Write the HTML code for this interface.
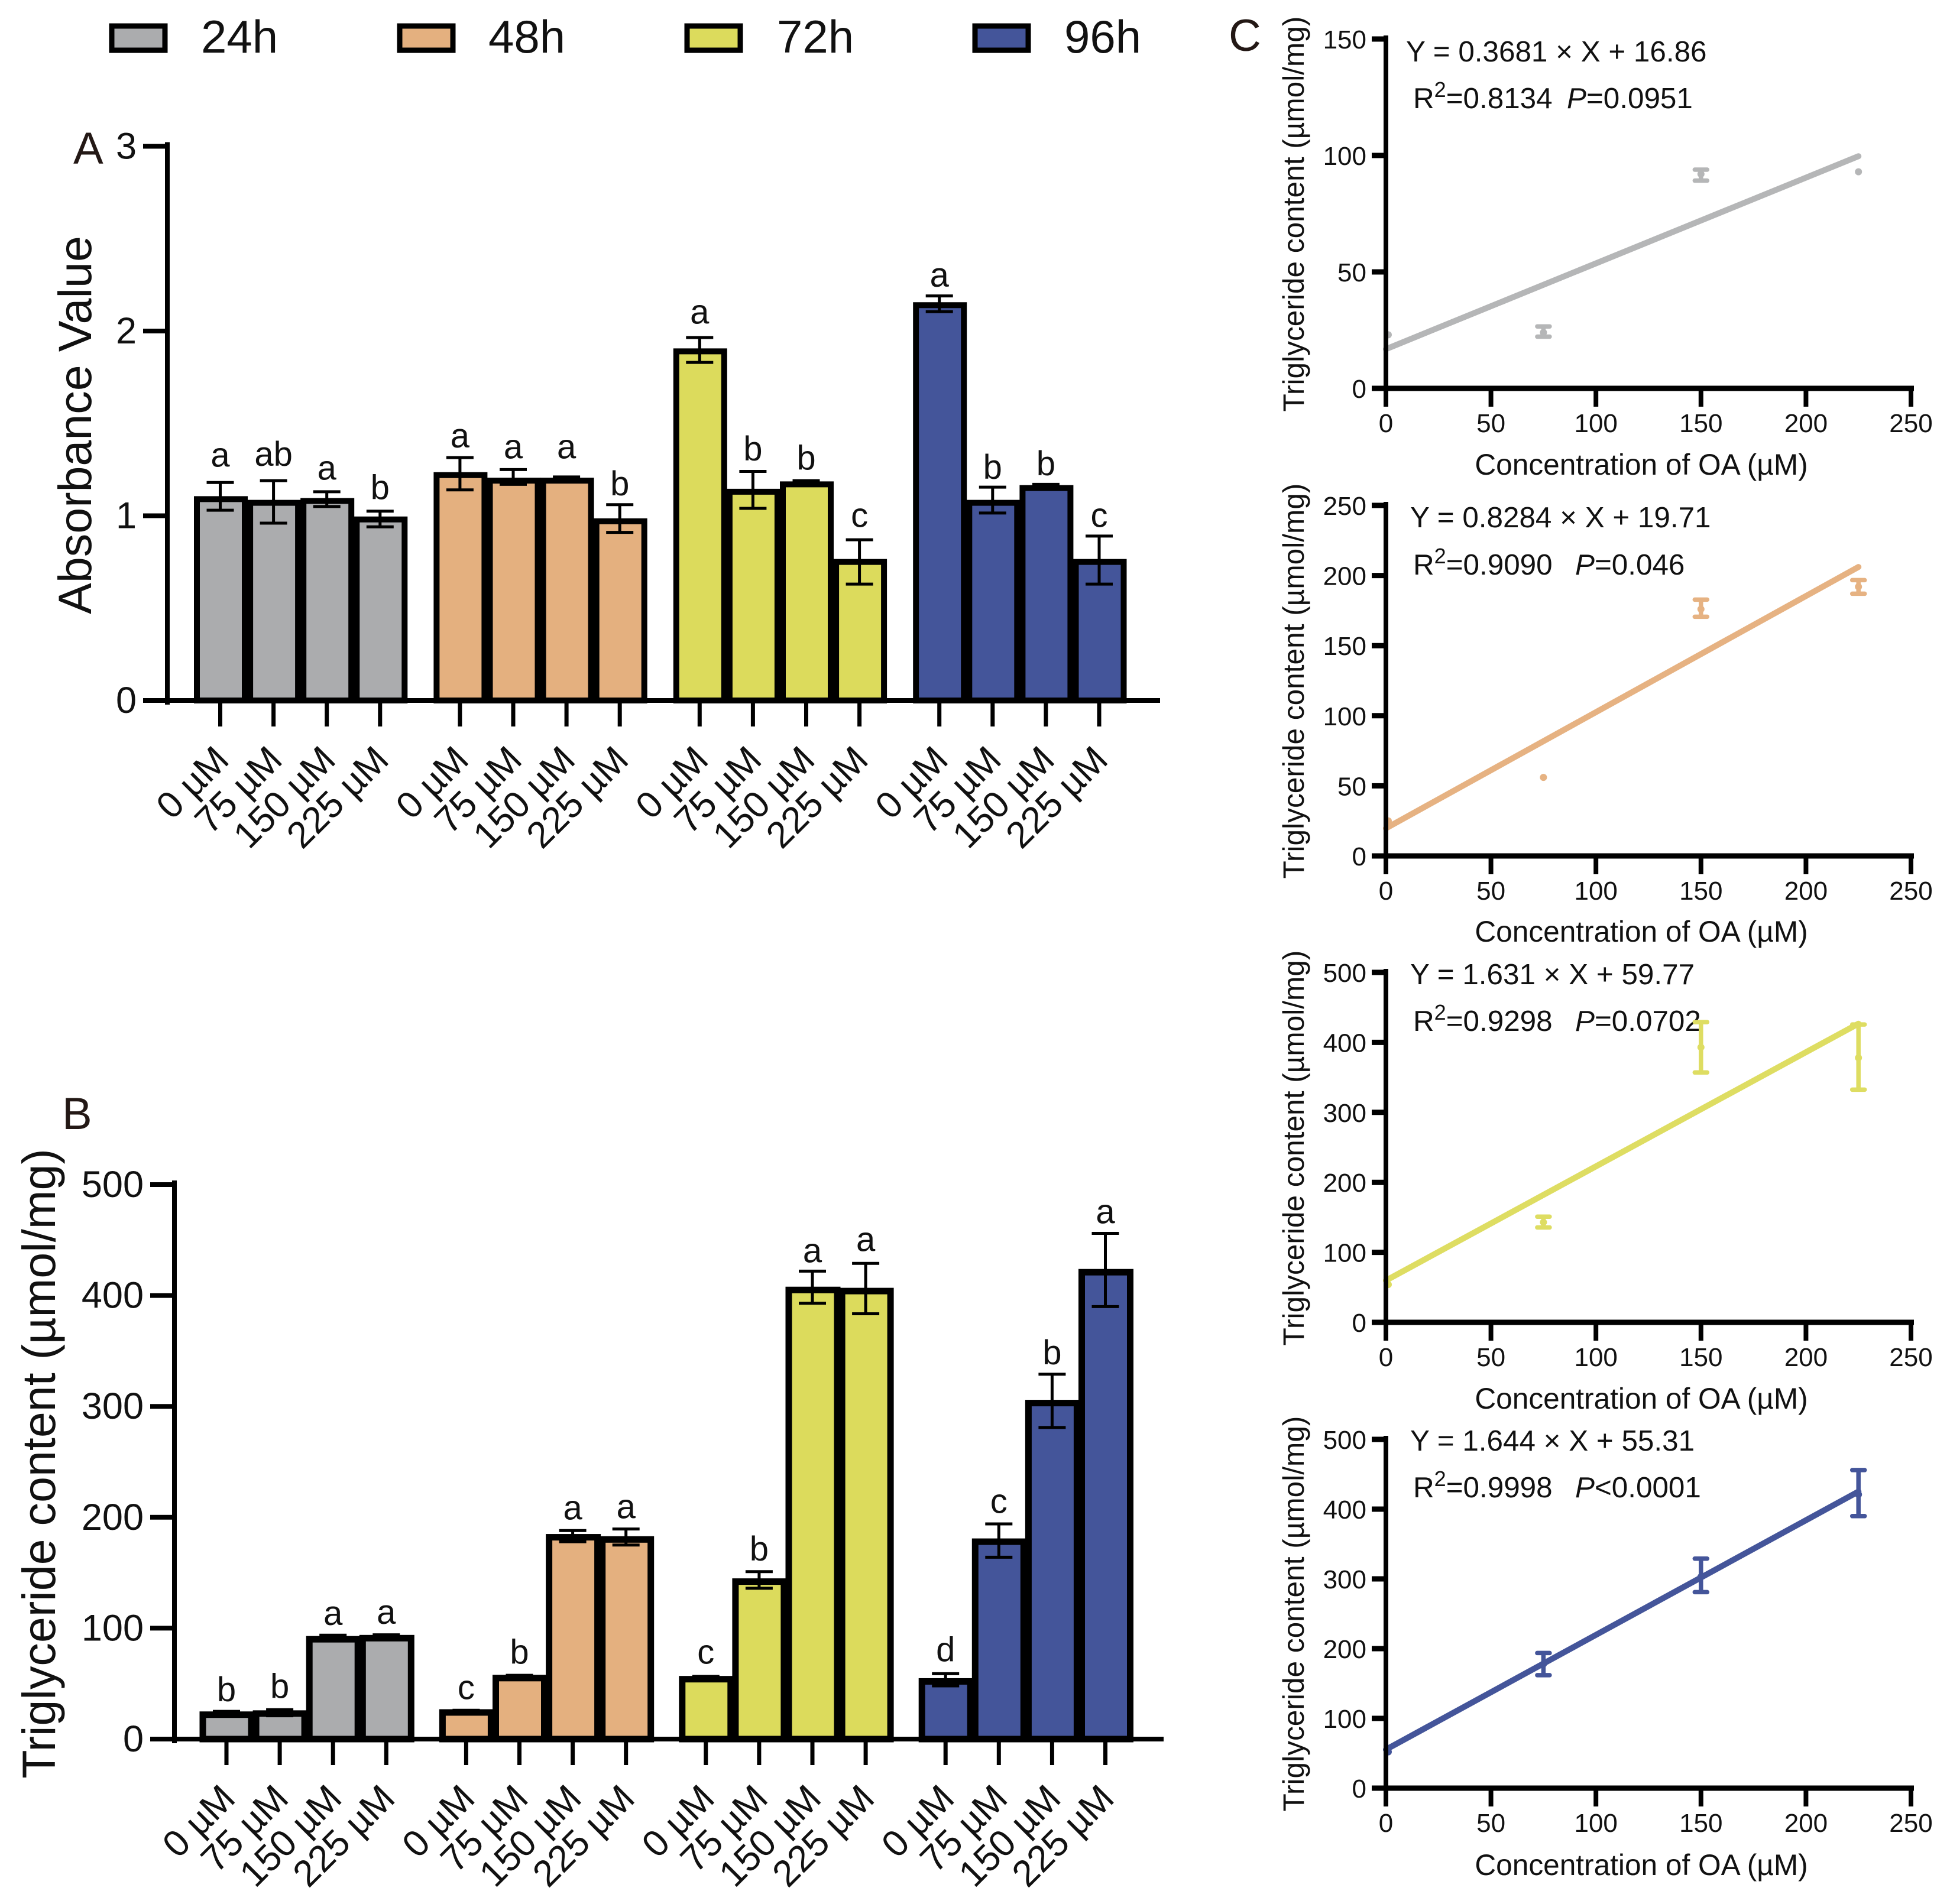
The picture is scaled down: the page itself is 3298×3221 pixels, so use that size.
<!DOCTYPE html>
<html lang="en">
<head>
<meta charset="utf-8">
<title>Absorbance and triglyceride content by oleic acid concentration</title>
<style>
html,body{margin:0;padding:0;background:#fff;}
svg{display:block;font-family:"Liberation Sans",Arial,sans-serif;fill:#111;}
.fill-24h{fill:#ABACAE}.fill-48h{fill:#E4B07F}.fill-72h{fill:#DCDB5C}.fill-96h{fill:#44559A}
.line-24h{stroke:#B5B6B7}.line-48h{stroke:#E6B282}.line-72h{stroke:#DEDD62}.line-96h{stroke:#44559A}
.dot-24h{fill:#B5B6B7}.dot-48h{fill:#E6B282}.dot-72h{fill:#DEDD62}.dot-96h{fill:#44559A}
.bar{stroke:#000}
.ink{stroke:#000;fill:none}
.panel{font-size:76px;fill:#231815}
.legend{font-size:78px}
.big-title{font-size:79px;text-anchor:middle}
.big-tick{font-size:63px;text-anchor:end}
.cat{font-size:63px;text-anchor:end}
.sig{font-size:58px;text-anchor:middle}
.c-title{font-size:49.6px;text-anchor:middle}
.c-tick{font-size:44px}
.eq{font-size:49.4px}
.sup{font-size:36px}
</style>
</head>
<body>
<svg id="figure" xmlns="http://www.w3.org/2000/svg" width="3298" height="3221" viewBox="0 0 3298 3221">
  <rect x="0" y="0" width="3298" height="3221" fill="#fff"/>

  <g>
    <g>
      <rect class="fill-24h" x="189" y="44" width="90" height="41" stroke="#000" stroke-width="9"/>
      <text class="legend" x="340" y="89">24h</text>
    </g>
    <g>
      <rect class="fill-48h" x="676" y="44" width="90" height="41" stroke="#000" stroke-width="9"/>
      <text class="legend" x="826" y="89">48h</text>
    </g>
    <g>
      <rect class="fill-72h" x="1162" y="44" width="90" height="41" stroke="#000" stroke-width="9"/>
      <text class="legend" x="1314" y="89">72h</text>
    </g>
    <g>
      <rect class="fill-96h" x="1649" y="44" width="90" height="41" stroke="#000" stroke-width="9"/>
      <text class="legend" x="1800" y="89">96h</text>
    </g>
  </g>

  <text class="panel" x="124" y="277">A</text>
  <text class="panel" x="105" y="1910">B</text>
  <text class="panel" x="2078" y="86">C</text>

  <text class="big-title" transform="translate(154 719) rotate(-90)">Absorbance Value</text>
  <text class="big-title" transform="translate(93 2476) rotate(-90)">Triglyceride content (µmol/mg)</text>

  <g id="chart-a"></g>
  <g id="chart-b"></g>

  <g id="chart-c0">
    <text class="c-title" transform="translate(2205 362) rotate(-90)">Triglyceride content (µmol/mg)</text>
    <text class="c-title" x="2776" y="803">Concentration of OA (µM)</text>
    <text class="eq" x="2378" y="104">Y = 0.3681 × X + 16.86</text>
    <text class="eq" x="2390" y="183">R<tspan class="sup" dy="-19">2</tspan><tspan dy="19">=0.8134</tspan><tspan x="2650" font-style="italic">P</tspan>=0.0951</text>
  </g>
  <g id="chart-c1">
    <text class="c-title" transform="translate(2205 1152) rotate(-90)">Triglyceride content (µmol/mg)</text>
    <text class="c-title" x="2776" y="1593">Concentration of OA (µM)</text>
    <text class="eq" x="2385" y="892">Y = 0.8284 × X + 19.71</text>
    <text class="eq" x="2390" y="972">R<tspan class="sup" dy="-19">2</tspan><tspan dy="19">=0.9090</tspan><tspan x="2664" font-style="italic">P</tspan>=0.046</text>
  </g>
  <g id="chart-c2">
    <text class="c-title" transform="translate(2205 1942) rotate(-90)">Triglyceride content (µmol/mg)</text>
    <text class="c-title" x="2776" y="2383">Concentration of OA (µM)</text>
    <text class="eq" x="2385" y="1665">Y = 1.631 × X + 59.77</text>
    <text class="eq" x="2390" y="1744">R<tspan class="sup" dy="-19">2</tspan><tspan dy="19">=0.9298</tspan><tspan x="2664" font-style="italic">P</tspan>=0.0702</text>
  </g>
  <g id="chart-c3">
    <text class="c-title" transform="translate(2205 2730) rotate(-90)">Triglyceride content (µmol/mg)</text>
    <text class="c-title" x="2776" y="3172">Concentration of OA (µM)</text>
    <text class="eq" x="2385" y="2454">Y = 1.644 × X + 55.31</text>
    <text class="eq" x="2390" y="2533">R<tspan class="sup" dy="-19">2</tspan><tspan dy="19">=0.9998</tspan><tspan x="2664" font-style="italic">P</tspan>&lt;0.0001</text>
  </g>
</svg>

<script>
const timeGroups = ['24h', '48h', '72h', '96h'];
const concentrationLabels = ['0 µM', '75 µM', '150 µM', '225 µM'];

const absorbanceTicks = [0, 1, 2, 3];
const absorbanceMeans = [[1.09, 1.07, 1.08, 0.98], [1.22, 1.19, 1.19, 0.97], [1.89, 1.13, 1.17, 0.75], [2.14, 1.07, 1.15, 0.75]];
const absorbanceUpper = [[1.18, 1.19, 1.13, 1.025], [1.315, 1.25, 1.21, 1.06], [1.965, 1.24, 1.19, 0.87], [2.19, 1.155, 1.17, 0.89]];
const absorbanceLower = [[1.03, 0.96, 1.05, 0.94], [1.14, 1.17, 1.19, 0.91], [1.83, 1.04, 1.17, 0.63], [2.105, 1.015, 1.15, 0.63]];
const absorbanceLetters = [['a', 'ab', 'a', 'b'], ['a', 'a', 'a', 'b'], ['a', 'b', 'b', 'c'], ['a', 'b', 'b', 'c']];
const absorbanceLetterLevels = [[1.265, 1.27, 1.195, 1.09], [1.37, 1.31, 1.31, 1.11], [2.04, 1.30, 1.25, 0.94], [2.24, 1.20, 1.22, 0.94]];

const trigTicks = [0, 100, 200, 300, 400, 500];
const trigMeans = [[22, 23, 90, 91], [24, 55, 182, 180], [54, 142, 405, 404], [52, 178, 303, 421]];
const trigUpper = [[25, 26.5, 93.7, 94], [26, 57.5, 188, 189.4], [56.5, 151, 422, 429], [59, 194, 329, 456]];
const trigLower = [[21, 21, 89, 90], [23, 54, 178, 175], [53, 136, 393, 383.5], [48, 164, 281, 390]];
const trigLetters = [['b', 'b', 'a', 'a'], ['c', 'b', 'a', 'a'], ['c', 'b', 'a', 'a'], ['d', 'c', 'b', 'a']];
const trigLetterLevels = [[34, 37, 103, 104], [36, 68, 198, 199], [68, 161, 430, 440], [70, 204, 338, 465]];

const regressionXTicks = [0, 50, 100, 150, 200, 250];
const regressionYTicks = [[0, 50, 100, 150], [0, 50, 100, 150, 200, 250], [0, 100, 200, 300, 400, 500], [0, 100, 200, 300, 400, 500]];
const regressionSlopes = [0.3681, 0.8284, 1.631, 1.644];
const regressionIntercepts = [16.86, 19.71, 59.77, 55.31];
const oaDoses = [0, 75, 150, 225];
const regressionMeans = [[23, 24, 92, 93], [25, 56, 176, 192], [54, 143, 393, 378], [52, 178, 303, 421]];
const regressionUpper = [[23, 26.6, 93.9, 93], [25, 56, 182.8, 196.7], [54, 151, 429, 425.6], [52, 193.7, 329, 456]];
const regressionLower = [[23, 22.2, 89.2, 93], [25, 56, 170.6, 187], [54, 135.6, 357, 332.5], [52, 162, 281, 390]];

const NS = 'http://www.w3.org/2000/svg';
function make(parent, tag, attrs, text) {
  const el = document.createElementNS(NS, tag);
  for (const k in attrs) el.setAttribute(k, attrs[k]);
  if (text !== undefined) el.textContent = text;
  parent.appendChild(el);
  return el;
}
function slug(s) { return String(s).replace(/[^a-zA-Z0-9]+/g, '').toLowerCase(); }

function bandX(origin, g, i) { return origin + g * 405.4 + i * 90.1; }

function drawBarChart(root, opts) {
  const y = v => opts.y0 - v * opts.pxPerUnit;
  const key = opts.key;
  timeGroups.forEach((t, g) => {
    concentrationLabels.forEach((c, i) => {
      const cx = bandX(opts.originX, g, i);
      const bar = make(root, 'rect', {
        class: 'bar fill-' + t,
        'stroke-width': opts.barStroke,
        x: cx + 1 - opts.barHalf,
        y: y(opts.means[g][i]),
        width: opts.barHalf * 2,
        height: opts.y0 - y(opts.means[g][i])
      });
      
      

      const err = make(root, 'path', {
        class: 'ink',
        'stroke-width': 5,
        d: 'M' + (cx - 23) + ' ' + y(opts.upper[g][i]) + 'H' + (cx + 23) +
           'M' + cx + ' ' + y(opts.upper[g][i]) + 'V' + y(opts.lower[g][i]) +
           'M' + (cx - 23) + ' ' + y(opts.lower[g][i]) + 'H' + (cx + 23)
      });
      
      

      const sig = make(root, 'text', { class: 'sig', x: cx, y: y(opts.levels[g][i]) }, opts.letters[g][i]);
      
      

      const tick = make(root, 'line', { class: 'ink', 'stroke-width': 7, x1: cx, x2: cx, y1: opts.y0, y2: opts.y0 + 44 });
      
      

      const lx = cx + 18;
      const ly = opts.y0 + 104;
      const cat = make(root, 'text', { class: 'cat', x: lx, y: ly, transform: 'rotate(-45 ' + lx + ' ' + ly + ')' }, c);
      
      
    });
  });

  const yAxis = make(root, 'line', { class: 'ink', 'stroke-width': 8, x1: opts.axisX, x2: opts.axisX, y1: y(opts.ticks[opts.ticks.length - 1]) - 7, y2: opts.y0 + 7 });
  
  

  const xAxis = make(root, 'line', { class: 'ink', 'stroke-width': 8, x1: opts.axisX - 41, x2: opts.xEnd, y1: opts.y0, y2: opts.y0 });
  
  

  opts.ticks.forEach(v => {
    const tick = make(root, 'line', { class: 'ink', 'stroke-width': 8, x1: opts.axisX - 41, x2: opts.axisX, y1: y(v), y2: y(v) });
    
    

    const label = make(root, 'text', { class: 'big-tick', x: opts.axisX - 52, y: y(v) + 21 }, v);
    
    
  });
}

drawBarChart(document.getElementById('chart-a'), {
  key: 'absorbance', y0: 1185, pxPerUnit: 312.5, originX: 372.5, axisX: 283, xEnd: 1962, barStroke: 10, barHalf: 40.5,
  ticks: absorbanceTicks, means: absorbanceMeans, upper: absorbanceUpper, lower: absorbanceLower,
  letters: absorbanceLetters, levels: absorbanceLetterLevels
});
drawBarChart(document.getElementById('chart-b'), {
  key: 'triglyceride', y0: 2942, pxPerUnit: 1.876, originX: 383, axisX: 295, xEnd: 1968, barStroke: 11, barHalf: 41,
  ticks: trigTicks, means: trigMeans, upper: trigUpper, lower: trigLower,
  letters: trigLetters, levels: trigLetterLevels
});

function regressionX(v) { return 2344 + v * 3.552; }

function drawRegression(root, p, y0, yTop) {
  const ticks = regressionYTicks[p];
  const max = ticks[ticks.length - 1];
  const y = v => y0 - v * (y0 - yTop) / max;
  const t = timeGroups[p];
  const x = regressionX;

  oaDoses.forEach((d, i) => {
    const dot = make(root, 'circle', { class: 'dot-' + t, cx: x(d) + (d === 0 ? 4 : 0), cy: y(regressionMeans[p][i]), r: 6 });
    
    

    if (regressionUpper[p][i] !== regressionLower[p][i]) {
      const cx = x(d);
      const err = make(root, 'path', {
        class: 'line-' + t,
        fill: 'none',
        'stroke-width': 7.5,
        'stroke-linecap': 'round',
        d: 'M' + (cx - 10.5) + ' ' + y(regressionUpper[p][i]) + 'H' + (cx + 10.5) +
           'M' + cx + ' ' + y(regressionUpper[p][i]) + 'V' + y(regressionLower[p][i]) +
           'M' + (cx - 10.5) + ' ' + y(regressionLower[p][i]) + 'H' + (cx + 10.5)
      });
      
      
    }
  });

  const fit = make(root, 'line', {
    class: 'line-' + t,
    'stroke-width': 10,
    'stroke-linecap': 'round',
    x1: x(0),
    y1: y(regressionIntercepts[p]),
    x2: x(225),
    y2: y(regressionIntercepts[p] + regressionSlopes[p] * 225)
  });
  
  

  const yAxis = make(root, 'line', { class: 'ink', 'stroke-width': 8, x1: x(0), x2: x(0), y1: yTop - 6, y2: y0 + 4 });
  
  

  const xAxis = make(root, 'line', { class: 'ink', 'stroke-width': 9, x1: x(0) - 24, x2: x(250) + 5, y1: y0, y2: y0 });
  
  

  ticks.forEach(v => {
    const tick = make(root, 'line', { class: 'ink', 'stroke-width': 9, x1: x(0) - 24, x2: x(0), y1: y(v), y2: y(v) });
    
    

    const label = make(root, 'text', { class: 'c-tick', 'text-anchor': 'end', x: 2311, y: y(v) + 16 }, v);
    
    
  });

  regressionXTicks.forEach(v => {
    const tick = make(root, 'line', { class: 'ink', 'stroke-width': 8, x1: x(v), x2: x(v), y1: y0, y2: y0 + 31 });
    
    

    const label = make(root, 'text', { class: 'c-tick', 'text-anchor': 'middle', x: x(v), y: y0 + 74 }, v);
    
    
  });
}

drawRegression(document.getElementById('chart-c0'), 0, 657, 66);
drawRegression(document.getElementById('chart-c1'), 1, 1448, 855);
drawRegression(document.getElementById('chart-c2'), 2, 2237, 1645);
drawRegression(document.getElementById('chart-c3'), 3, 3025, 2435);
</script>
</body>
</html>
